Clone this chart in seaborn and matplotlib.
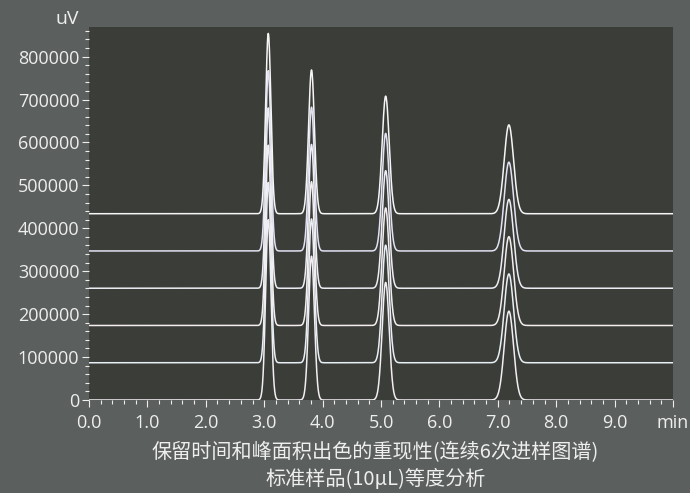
import numpy as np
import pandas as pd
import matplotlib.pyplot as plt
import seaborn as sns
from matplotlib.ticker import MultipleLocator

sns.set_theme(style='dark')
plt.rcParams['font.family'] = ['Open Sans', 'Noto Sans CJK SC', 'DejaVu Sans']

# peak table (retention min, height uV, sigma min)
peak_rt = [3.07, 3.81, 5.08, 7.19]
peak_height = [420000, 335000, 274000, 207000]
peak_sigma = [0.045, 0.05, 0.06, 0.08]

# six injections stacked with an offset
run_offset = [0, 86800, 173600, 260400, 347200, 434000]
run_color = ['#f2eef2', '#e8f0f6', '#f4eef0', '#eeeef6', '#e2e2f4', '#f6f6f6']

x_ticks = [0, 1, 2, 3, 4, 5, 6, 7, 8, 9, 10]
x_labels = ['0.0', '1.0', '2.0', '3.0', '4.0', '5.0', '6.0', '7.0', '8.0', '9.0', 'min']
y_ticks = [0, 100000, 200000, 300000, 400000, 500000, 600000, 700000, 800000]

t = np.linspace(0, 10, 2001)
frames = []
for i, off in enumerate(run_offset):
    sig = np.full_like(t, float(off))
    for rt, h, s in zip(peak_rt, peak_height, peak_sigma):
        sig += h * np.exp(-0.5 * ((t - rt) / s) ** 2)
    frames.append(pd.DataFrame({'time': t, 'uV': sig, 'run': 'run%d' % (i + 1)}))
df = pd.concat(frames, ignore_index=True)

outer = '#5b5f5e'
inner = '#3b3d39'
txt = '#eeeeee'
cjk = ['Noto Sans CJK SC', 'DejaVu Sans']

fig = plt.figure(figsize=(6.9, 4.93), dpi=100, facecolor=outer)
ax = fig.add_axes([89 / 690, 93 / 493, 584 / 690, 373 / 493])
ax.set_facecolor(inner)

sns.lineplot(data=df, x='time', y='uV', hue='run', palette=run_color,
             linewidth=1.1, legend=False, ax=ax, estimator=None, sort=False)

ax.set_xlim(0, 10)
ax.set_ylim(0, 869000)
ax.set_xticks(x_ticks)
ax.set_xticklabels(x_labels)
ax.set_yticks(y_ticks)
ax.set_yticklabels([str(v) for v in y_ticks])
ax.xaxis.set_minor_locator(MultipleLocator(0.2))
ax.yaxis.set_minor_locator(MultipleLocator(20000))
ax.tick_params(which='both', direction='out', colors=txt, labelsize=13,
               left=True, bottom=True, width=0.8)
ax.tick_params(which='major', length=5)
ax.tick_params(axis='y', which='major', pad=2)
ax.tick_params(axis='x', which='major', pad=5)
ax.tick_params(which='minor', length=3)
ax.set_xlabel('')
ax.set_ylabel('')
ax.grid(False)
for s in ax.spines.values():
    s.set_visible(False)

fig.text(67 / 690, 1 - 19 / 493, 'uV', color=txt, fontsize=14, ha='center', va='center')
fig.text(375 / 690, 1 - 453 / 493, '保留时间和峰面积出色的重现性(连续6次进样图谱)',
         color=txt, fontsize=14.5, ha='center', va='center', family=cjk)
fig.text(376 / 690, 1 - 479 / 493, '标准样品(10μL)等度分析',
         color=txt, fontsize=14.5, ha='center', va='center', family=cjk)

fig.savefig('out.png', dpi=100, facecolor=outer)
